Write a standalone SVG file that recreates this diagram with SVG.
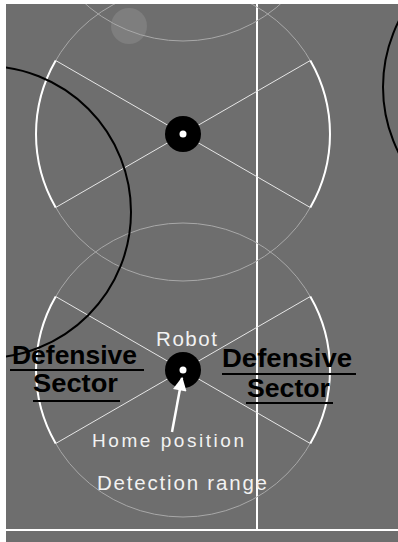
<svg xmlns="http://www.w3.org/2000/svg" width="398" height="542" viewBox="0 0 398 542">
<style>
.range{fill:none;stroke:#a8a8a8;stroke-width:1}
.sect{fill:none;stroke:#ffffff;stroke-width:2}
.ray{stroke:#e6e6e6;stroke-width:1}
.body{fill:#000}
.dot{fill:#fff}
.wtxt{font-family:"Liberation Sans",Arial,sans-serif;fill:#f2f2f2}
.btxt{font-family:"Liberation Sans",Arial,sans-serif;font-weight:bold;font-size:26px;fill:#000}
.ul{stroke:#000;stroke-width:2}
.field{stroke:#fff;stroke-width:2}
.opp{fill:none;stroke:#000;stroke-width:2}
</style>
<defs>
<clipPath id="fc"><rect x="6" y="4" width="392" height="538"/></clipPath>
<marker id="ah" viewBox="0 0 10 10" refX="9" refY="5" markerWidth="6.5" markerHeight="5.5" orient="auto" markerUnits="strokeWidth">
<path d="M0,0 L10,5 L0,10 Z" fill="#fff"/>
</marker>
</defs>
<rect width="398" height="542" fill="#ffffff"/>
<g clip-path="url(#fc)">
<rect x="6" y="4" width="392" height="538" fill="#6e6e6e"/>
<g id="field-lines">
<line class="field" x1="257" y1="4" x2="257" y2="530"/>
<line class="field" x1="6" y1="530" x2="398" y2="530"/>
</g>
<g id="ball"><circle cx="129" cy="26" r="18" fill="#7e7e7e"/></g>
<g id="robot-upper-2">
<circle class="range" cx="183" cy="-106" r="147"/>
</g>
<g id="robot-upper">
<circle class="range" cx="183" cy="134" r="147"/>
<path class="sect" d="M55.7,60.5 A147,147 0 0 0 55.7,207.5"/>
<path class="sect" d="M310.3,60.5 A147,147 0 0 1 310.3,207.5"/>
<line class="ray" x1="55.7" y1="60.5" x2="310.3" y2="207.5"/>
<line class="ray" x1="55.7" y1="207.5" x2="310.3" y2="60.5"/>
<circle class="body" cx="183" cy="134" r="18"/>
<circle class="dot" cx="183" cy="134" r="3.5"/>
</g>
<g id="robot-lower">
<circle class="range" cx="183" cy="370" r="147"/>
<path class="sect" d="M55.7,296.5 A147,147 0 0 0 55.7,443.5"/>
<path class="sect" d="M310.3,296.5 A147,147 0 0 1 310.3,443.5"/>
<line class="ray" x1="55.7" y1="296.5" x2="310.3" y2="443.5"/>
<line class="ray" x1="55.7" y1="443.5" x2="310.3" y2="296.5"/>
<circle class="body" cx="183" cy="370" r="18"/>
<circle class="dot" cx="183" cy="370" r="3.5"/>
</g>
<g id="opponent-left"><circle class="opp" cx="-15" cy="212" r="146"/></g>
<g id="opponent-right"><circle class="opp" cx="529" cy="87" r="146"/></g>
</g>
<g id="connectors">
<line x1="172" y1="432" x2="182" y2="378" stroke="#fff" stroke-width="2.5" marker-end="url(#ah)"/>
</g>
<g id="labels">
<text class="wtxt" x="156" y="346" font-size="20.5" textLength="61" lengthAdjust="spacing">Robot</text>
<text class="wtxt" x="92" y="447" font-size="19" textLength="152" lengthAdjust="spacing">Home position</text>
<text class="wtxt" x="97" y="490" font-size="20.5" textLength="170" lengthAdjust="spacing">Detection range</text>
</g>
<g id="sector-left">
<text class="btxt" x="12" y="364" textLength="125" lengthAdjust="spacingAndGlyphs">Defensive</text>
<text class="btxt" x="33" y="392" textLength="85" lengthAdjust="spacingAndGlyphs">Sector</text>
<line class="ul" x1="10" y1="370" x2="144" y2="370"/>
<line class="ul" x1="33" y1="401" x2="120" y2="401"/>
</g>
<g id="sector-right">
<text class="btxt" x="222" y="367" textLength="130" lengthAdjust="spacingAndGlyphs">Defensive</text>
<text class="btxt" x="247" y="397" textLength="83" lengthAdjust="spacingAndGlyphs">Sector</text>
<line class="ul" x1="222" y1="374" x2="356" y2="374"/>
<line class="ul" x1="246" y1="403" x2="333" y2="403"/>
</g>
</svg>
